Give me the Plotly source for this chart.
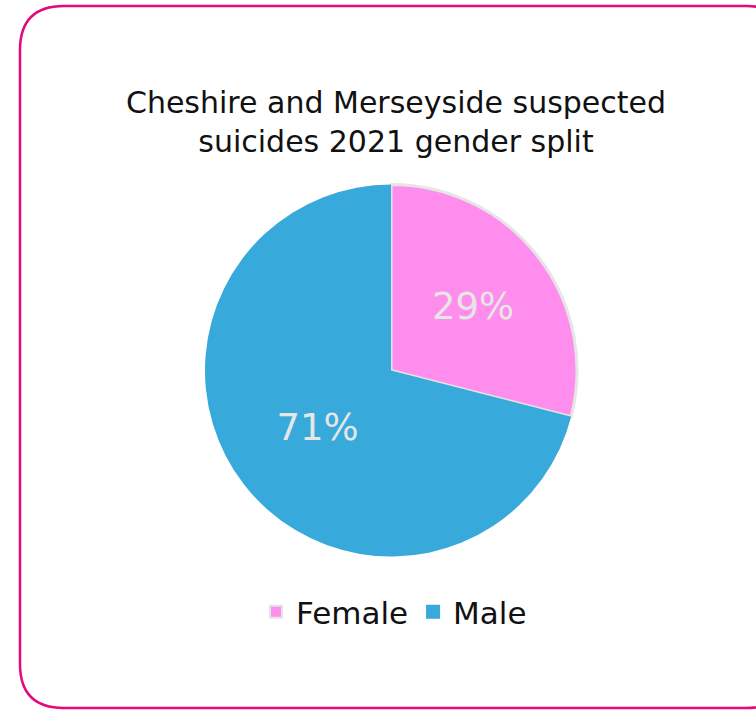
import plotly.graph_objects as go

labels = ["Female", "Male"]
values = [29, 71]
colors = ["#ff8ded", "#38a9db"]
title_text = "Cheshire and Merseyside suspected<br>suicides 2021 gender split"

W, H = 756, 711

def px(x):
    return x / W

def py(y):
    return 1 - y / H

# rounded border box (pixel coords)
x0, y0, x1, y1, r = 20, 6, 790, 708, 44
path = (
    f"M {px(x0+r)},{py(y0)} L {px(x1-r)},{py(y0)} "
    f"Q {px(x1)},{py(y0)} {px(x1)},{py(y0+r)} "
    f"L {px(x1)},{py(y1-r)} Q {px(x1)},{py(y1)} {px(x1-r)},{py(y1)} "
    f"L {px(x0+r)},{py(y1)} Q {px(x0)},{py(y1)} {px(x0)},{py(y1-r)} "
    f"L {px(x0)},{py(y0+r)} Q {px(x0)},{py(y0)} {px(x0+r)},{py(y0)} Z"
)

font_family = "'DejaVu Sans', sans-serif"

fig = go.Figure(
    go.Pie(
        labels=labels,
        values=values,
        sort=False,
        direction="clockwise",
        rotation=0,
        marker=dict(colors=colors, line=dict(color=["#e5e5e5", "#38a9db"], width=[3, 0])),
        textinfo="percent",
        texttemplate="%{percent:.0%}",
        textposition="inside",
        insidetextorientation="horizontal",
        textfont=dict(color="#e6e6e6", size=37, family=font_family),
        domain=dict(x=[px(205), px(577)], y=[py(557), py(184)]),
        hoverinfo="label+percent",
    )
)

fig.update_layout(
    width=W,
    height=H,
    margin=dict(l=0, r=0, t=0, b=0),
    paper_bgcolor="white",
    plot_bgcolor="white",
    title=dict(
        text=title_text,
        x=396 / W,
        xanchor="center",
        y=1 - 113 / H,
        yanchor="top",
        yref="container",
        font=dict(size=30, color="#111111", family=font_family),
    ),
    legend=dict(
        orientation="h",
        x=394 / W,
        xanchor="center",
        y=py(585),
        yanchor="top",
        font=dict(size=31, color="#111111", family=font_family),
        itemsizing="constant",
    ),
    shapes=[
        dict(
            type="path",
            path=path,
            xref="paper",
            yref="paper",
            line=dict(color="#e5087d", width=2.5),
            fillcolor="rgba(0,0,0,0)",
            layer="below",
        )
    ],
)

fig.write_html(
    "out.html",
    config={"displayModeBar": False},
    post_script="document.body.style.margin='0';",
)
